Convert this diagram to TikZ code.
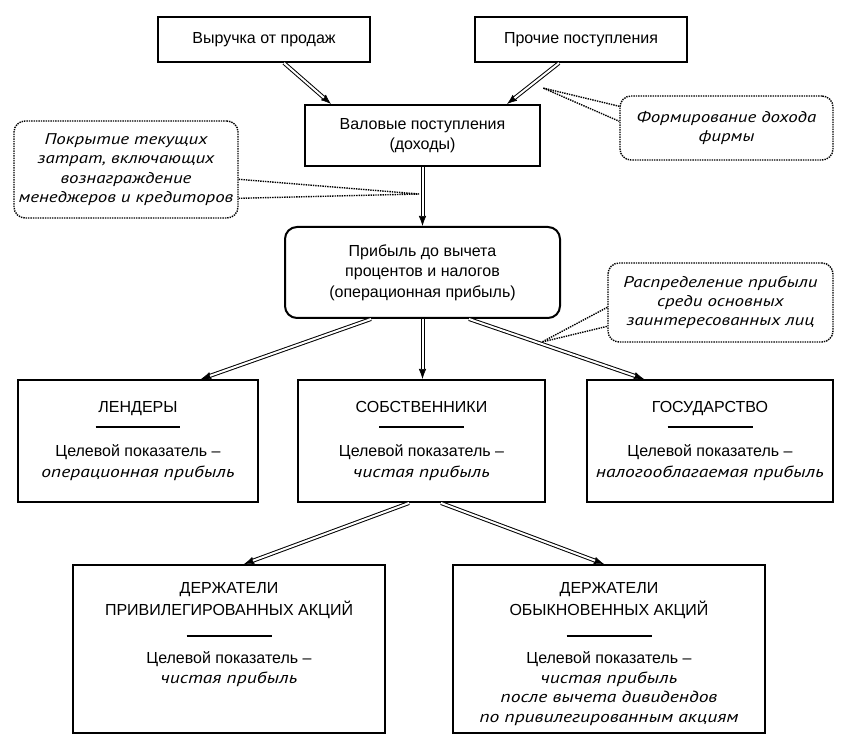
\documentclass[tikz,border=0pt]{standalone}
\usepackage{fontspec}
\setmainfont{Liberation Sans}
\newfontfamily\itf{PT Sans Italic}[Scale=1.0,FakeStretch=1.22]
\usetikzlibrary{arrows.meta,calc}
\newcommand\mysz{\fontsize{16}{20.5}\selectfont}
\newcommand\mycsz{\fontsize{15.5}{19.3}\selectfont}
\newcommand\mysep{\rule{85pt}{2.3pt}}
\newcommand\ti[1]{{\itf #1}}
\newcommand\darr[2]{\draw[tipln] #1 -- #2; \draw[dline] #1 -- #2;}
\begin{document}
\begin{tikzpicture}[x=1pt,y=-1pt,
  box/.style={draw, line width=2pt, inner sep=0pt, align=center, font=\mysz},
  rbox/.style={box, rounded corners=12pt},
  txt/.style={inner sep=0pt, align=center, font=\mysz},
  callout/.style={draw, densely dotted, line width=1.4pt, rounded corners=11pt, inner sep=0pt, align=center, font=\mycsz\itf},
  pointer/.style={densely dotted, line width=1.4pt},
  tipln/.style={line width=0.6pt, -{Latex[length=10pt,width=7.5pt]}},
  dline/.style={double, double distance=2pt, line width=1pt, shorten >=9.5pt}]
\useasboundingbox (0,0) rectangle (849,743);

% top row
\node[box, minimum width=212pt, minimum height=45pt] (b1) at (264,39.5) {Выручка от продаж};
\node[box, minimum width=212pt, minimum height=45pt] (b2) at (581,39.5) {Прочие поступления};
\node[box, minimum width=235pt, minimum height=61pt] (val) at (422.5,135.5) {Валовые поступления\\(доходы)};
\node[rbox, minimum width=275pt, minimum height=91pt] (op) at (422.5,272.5) {Прибыль до вычета\\процентов и налогов\\(операционная прибыль)};

% callouts
\node[callout, minimum width=224pt, minimum height=97pt] (cL) at (126,169.5) {Покрытие текущих\\затрат, включающих\\вознаграждение\\менеджеров и кредиторов};
\node[callout, minimum width=213pt, minimum height=64pt] (cR1) at (726.5,128) {Формирование дохода\\фирмы};
\node[callout, minimum width=225pt, minimum height=79pt] (cR2) at (720.5,302.5) {Распределение прибыли\\среди основных\\заинтересованных лиц};

% row 2
\node[box, minimum width=240pt, minimum height=122pt] (len) at (138,441) {ЛЕНДЕРЫ\\[-5pt]\mysep\\[8pt]Целевой показатель –\\\ti{операционная прибыль}};
\node[box, minimum width=247pt, minimum height=122pt] (own) at (421.5,441) {СОБСТВЕННИКИ\\[-5pt]\mysep\\[8pt]Целевой показатель –\\\ti{чистая прибыль}};
\node[box, minimum width=246pt, minimum height=122pt] (st) at (710,441) {ГОСУДАРСТВО\\[-5pt]\mysep\\[8pt]Целевой показатель –\\\ti{налогооблагаемая прибыль}};

% row 3
\node[box, minimum width=312pt, minimum height=168pt] (pref) at (229,649) {};
\node[box, minimum width=312pt, minimum height=168pt] (com) at (609,649) {};
\node[txt, anchor=north, font=\fontsize{16}{19.5}\selectfont] (preft) at ($(pref.north)+(0,18.5)$) {ДЕРЖАТЕЛИ\\[2.5pt]ПРИВИЛЕГИРОВАННЫХ АКЦИЙ\\[2pt]\mysep\\[7pt]Целевой показатель –\\\ti{чистая прибыль}};
\node[txt, anchor=north, font=\fontsize{16}{19.5}\selectfont] (comt) at ($(com.north)+(0,18.5)$) {ДЕРЖАТЕЛИ\\[2.5pt]ОБЫКНОВЕННЫХ АКЦИЙ\\[2pt]\mysep\\[7pt]Целевой показатель –\\\ti{чистая прибыль}\\\ti{после вычета дивидендов}\\\ti{по привилегированным акциям}};

% arrows
\darr{($(b1.south west)+(127,0)$)}{($(val.north west)+(27,0)$)}
\darr{($(b2.south west)+(85,0)$)}{($(val.north west)+(203,0)$)}
\darr{(val.south)}{(op.north)}
\darr{($(op.south west)+(87,0)$)}{($(len.north west)+(184,0)$)}
\darr{(op.south)}{(op.south |- own.north)}
\darr{($(op.south west)+(185,0)$)}{($(st.north west)+(58,0)$)}
\darr{($(own.south west)+(112,0)$)}{($(pref.north west)+(172,0)$)}
\darr{($(own.south west)+(144,0)$)}{($(com.north west)+(152,0)$)}

% pointers
\coordinate (t1) at (543,88);
\draw[pointer] ($(cR1.north west)+(0,11)$) -- (t1) -- ($(cR1.north west)+(0,26)$);
\coordinate (t2) at (419,194);
\draw[pointer] ($(cL.north east)+(0,59)$) -- (t2) -- ($(cL.north east)+(0,78)$);
\coordinate (t3) at (542,342);
\draw[pointer] ($(cR2.north west)+(0,45)$) -- (t3) -- ($(cR2.north west)+(0,64)$);
\end{tikzpicture}
\end{document}
